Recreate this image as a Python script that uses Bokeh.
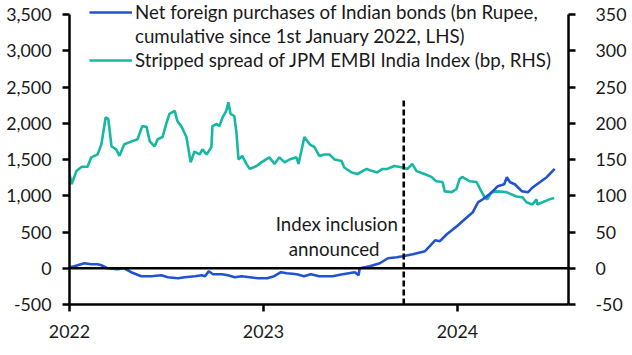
import pandas as pd
from bokeh.plotting import figure
from bokeh.models import (Range1d, LinearAxis, FixedTicker, NumeralTickFormatter,
                          DatetimeTickFormatter, Span, Legend, LegendItem, ColumnDataSource)
from bokeh.core.properties import value
from bokeh.embed import file_html
from bokeh.resources import INLINE

# ---- data ----
spread_dates = [
    "2022-01-01", "2022-01-05", "2022-01-14", "2022-01-24", "2022-02-04", "2022-02-11",
    "2022-02-23", "2022-03-02", "2022-03-10", "2022-03-15", "2022-03-21", "2022-03-30",
    "2022-04-05", "2022-04-14", "2022-04-28", "2022-05-09", "2022-05-18", "2022-05-26",
    "2022-06-01", "2022-06-10", "2022-06-16", "2022-06-25", "2022-07-02", "2022-07-08",
    "2022-07-18", "2022-07-23", "2022-07-31", "2022-08-09", "2022-08-17", "2022-08-24",
    "2022-09-03", "2022-09-08", "2022-09-16", "2022-09-25", "2022-09-27", "2022-10-05",
    "2022-10-10", "2022-10-16", "2022-10-23", "2022-10-27", "2022-10-31", "2022-11-07",
    "2022-11-11", "2022-11-15", "2022-11-22", "2022-11-30", "2022-12-06", "2022-12-19",
    "2022-12-28", "2023-01-12", "2023-01-22", "2023-01-31", "2023-02-10", "2023-02-19",
    "2023-03-04", "2023-03-08", "2023-03-19", "2023-03-29", "2023-04-07", "2023-04-16",
    "2023-04-26", "2023-05-05", "2023-05-15", "2023-05-28", "2023-06-02", "2023-06-16",
    "2023-06-27", "2023-07-14", "2023-07-25", "2023-08-03", "2023-08-13", "2023-08-22",
    "2023-09-04", "2023-09-20", "2023-09-29", "2023-10-08", "2023-10-16", "2023-10-31",
    "2023-11-13", "2023-11-22", "2023-12-04", "2023-12-08", "2023-12-21", "2023-12-30",
    "2024-01-05", "2024-01-10", "2024-01-24", "2024-02-06", "2024-02-15", "2024-02-21",
    "2024-02-26", "2024-03-05", "2024-03-14", "2024-04-02", "2024-04-21", "2024-05-02",
    "2024-05-10", "2024-05-21", "2024-05-29", "2024-05-30", "2024-06-09", "2024-06-22",
    "2024-07-01",
]
spread_bp = [
    130, 116, 134, 140, 140, 153,
    157, 171, 208, 206, 168, 164,
    155, 171, 175, 178, 196, 195,
    175, 168, 178, 181, 199, 213,
    217, 203, 195, 181, 146, 161,
    157, 164, 157, 167, 196, 199,
    196, 208, 217, 229, 213, 210,
    188, 150, 155, 144, 137, 141,
    146, 153, 144, 153, 146, 150,
    153, 144, 181, 171, 167, 155,
    157, 157, 150, 148, 139, 132,
    130, 137, 134, 132, 137, 137,
    141, 139, 137, 144, 134, 130,
    126, 120, 119, 106, 105, 109,
    123, 126, 120, 119, 106, 98,
    95, 105, 106, 105, 99, 98,
    91, 88, 95, 88, 91, 95,
    97,
]

flow_dates = [
    "2022-01-01", "2022-01-10", "2022-01-29", "2022-02-11", "2022-02-23", "2022-03-02",
    "2022-03-13", "2022-04-01", "2022-04-14", "2022-04-27", "2022-05-16", "2022-06-04",
    "2022-06-23", "2022-07-05", "2022-07-24", "2022-08-06", "2022-08-25", "2022-09-07",
    "2022-09-13", "2022-09-20", "2022-09-28", "2022-10-15", "2022-10-26", "2022-11-08",
    "2022-11-21", "2022-12-06", "2022-12-21", "2023-01-08", "2023-01-21", "2023-02-03",
    "2023-02-14", "2023-03-05", "2023-03-18", "2023-03-31", "2023-04-16", "2023-05-11",
    "2023-05-30", "2023-06-22", "2023-06-29", "2023-07-01", "2023-07-20", "2023-08-08",
    "2023-08-23", "2023-09-09", "2023-09-20", "2023-10-09", "2023-11-01", "2023-11-10",
    "2023-11-20", "2023-11-29", "2023-12-12", "2023-12-31", "2024-01-19", "2024-01-30",
    "2024-02-09", "2024-02-18", "2024-03-06", "2024-03-17", "2024-03-29", "2024-04-03",
    "2024-04-09", "2024-04-18", "2024-05-01", "2024-05-13", "2024-05-22", "2024-06-04",
    "2024-06-17", "2024-07-02",
]
flow_bn = [
    14, 28, 69, 55, 55, 41,
    0, -14, 0, -55, -110, -110,
    -97, -124, -138, -124, -110, -97,
    -110, -41, -83, -83, -97, -124,
    -110, -124, -138, -138, -110, -55,
    -69, -83, -110, -83, -110, -110,
    -83, -55, -97, 0, 28, 69,
    138, 152, 166, 193, 235, 304,
    386, 373, 469, 580, 704, 773,
    911, 952, 1049, 1132, 1159, 1256,
    1187, 1159, 1063, 1049, 1118, 1187,
    1256, 1370,
]

year_ticks = ["2022-01-01", "2023-01-01", "2024-01-01"]
event_date = "2023-09-22"
lhs_ticks = [-500, 0, 500, 1000, 1500, 2000, 2500, 3000, 3500]
rhs_ticks = [-50, 0, 50, 100, 150, 200, 250, 300, 350]

label_flow_1 = "Net foreign purchases of Indian bonds (bn Rupee,"
label_flow_2 = "cumulative since 1st January 2022, LHS)"
label_spread = "Stripped spread of JPM EMBI India Index (bp, RHS)"

# ---- styling ----
FONT = "Lato"
FS_TEXT = "18.7px"
FS_TICK = "17.8px"
BLUE = "#2153D0"
TEAL = "#17B8A3"
TXT = "#1a1a1a"

# frame extends 14px above the 3,500 tick so the legend is not clipped
LHS_MIN, LHS_MAX = -500, 3500
RHS_MIN, RHS_MAX = -50, 350
HEAD = 14 * (LHS_MAX - LHS_MIN) / 290.0

p = figure(
    x_axis_type="datetime",
    frame_width=499, frame_height=304,
    min_border_left=69, min_border_right=40, min_border_top=0, min_border_bottom=30,
    output_backend="svg", toolbar_location=None,
    x_range=Range1d(pd.Timestamp("2022-01-01"), pd.Timestamp("2024-07-28")),
    y_range=Range1d(LHS_MIN, LHS_MAX + HEAD),
)
p.outline_line_color = None
p.xgrid.visible = False
p.ygrid.visible = False
p.extra_y_ranges = {"rhs": Range1d(RHS_MIN, RHS_MAX + HEAD / 10.0)}

spread_src = ColumnDataSource(dict(x=pd.to_datetime(spread_dates), y=spread_bp))
flow_src = ColumnDataSource(dict(x=pd.to_datetime(flow_dates), y=flow_bn))

r_spread = p.line("x", "y", source=spread_src, y_range_name="rhs",
                  line_color=TEAL, line_width=2.6)
r_flow = p.line("x", "y", source=flow_src, line_color=BLUE, line_width=2.6)
r_blank = p.line("x", "y", source=flow_src, line_alpha=0)

# zero line
p.add_layout(Span(location=0, dimension="width", line_color="black", line_width=2.5))

# event line
ev = pd.Timestamp(event_date)
p.segment(x0=[ev], y0=[-500], x1=[ev], y1=[2350], line_color="black",
          line_width=2.6, line_dash="6 3")
p.text(x=[pd.Timestamp("2023-05-19"), pd.Timestamp("2023-05-14")], y=[607, 262],
       text=["Index inclusion", "announced"], text_align="center",
       text_baseline="middle", text_font=value(FONT), text_font_size=FS_TEXT,
       text_color=TXT)

# axes
def style_axis(ax):
    ax.axis_line_width = 2.5
    ax.axis_line_color = "black"
    ax.major_tick_line_width = 2.5
    ax.major_tick_line_color = "black"
    ax.major_tick_out = 7
    ax.major_tick_in = 0
    ax.minor_tick_out = 0
    ax.minor_tick_in = 0
    ax.major_label_text_font = FONT
    ax.major_label_text_font_size = FS_TICK
    ax.major_label_text_color = TXT

xa = p.xaxis[0]
xa.ticker = FixedTicker(ticks=[pd.Timestamp(t).value // 10**6 for t in year_ticks])
xa.formatter = DatetimeTickFormatter(years="%Y", months="%Y", days="%Y")
xa.major_label_standoff = 13
style_axis(xa)

ya = p.yaxis[0]
ya.ticker = FixedTicker(ticks=lhs_ticks)
ya.formatter = NumeralTickFormatter(format="0,0")
ya.major_label_standoff = 11
ya.bounds = (LHS_MIN, LHS_MAX)
style_axis(ya)

ra = LinearAxis(y_range_name="rhs", ticker=FixedTicker(ticks=rhs_ticks),
                formatter=NumeralTickFormatter(format="0,0"))
ra.major_label_standoff = 20
ra.bounds = (RHS_MIN, RHS_MAX)
style_axis(ra)
p.add_layout(ra, "right")

# legend
legend = Legend(items=[
    LegendItem(label=label_flow_1, renderers=[r_flow]),
    LegendItem(label=label_flow_2, renderers=[r_blank]),
    LegendItem(label=label_spread, renderers=[r_spread]),
], location=(20, 232))
legend.background_fill_alpha = 0
legend.border_line_alpha = 0
legend.padding = 0
legend.margin = 0
legend.spacing = 0
legend.label_height = 24
legend.glyph_height = 24
legend.glyph_width = 43
legend.label_standoff = 3
legend.label_text_font = FONT
legend.label_text_font_size = FS_TEXT
legend.label_text_color = TXT
legend.label_text_baseline = "middle"
p.add_layout(legend)

open("out.html", "w").write(file_html(p, INLINE))
